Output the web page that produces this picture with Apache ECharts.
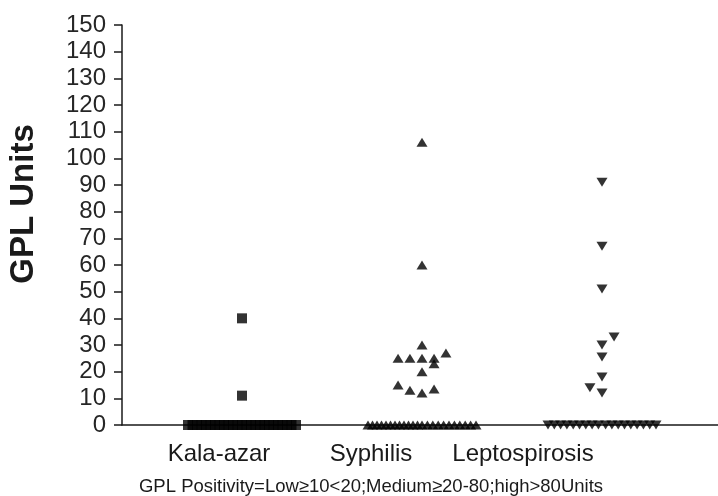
<!DOCTYPE html>
<html>
<head>
<meta charset="utf-8">
<script src="https://cdn.jsdelivr.net/npm/echarts@6/dist/echarts.min.js"></script>
<style>
  html, body { margin: 0; padding: 0; background: #fff; }
  #chart { width: 718px; height: 496px; }
</style>
</head>
<body>
<div id="chart"></div>
<script>
// category names and footnote
const categories = ['Kala-azar', 'Syphilis', 'Leptospirosis']
const yTitle = 'GPL Units'
const footnote = 'GPL Positivity=Low≥10<20;Medium≥20-80;high>80Units'

// each point: [horizontal spread within the column, GPL units]
const kalaAzar = [
  [-0.30, 0], [-0.275, 0], [-0.25, 0], [-0.225, 0], [-0.20, 0], [-0.175, 0], [-0.15, 0],
  [-0.125, 0], [-0.10, 0], [-0.075, 0], [-0.05, 0], [-0.025, 0], [0, 0], [0.025, 0],
  [0.05, 0], [0.075, 0], [0.10, 0], [0.125, 0], [0.15, 0], [0.175, 0], [0.20, 0],
  [0.225, 0], [0.25, 0], [0.275, 0], [0.30, 0],
  [0, 40], [0, 11]
]
const syphilis = [
  [-0.30, 0], [-0.275, 0], [-0.25, 0], [-0.225, 0], [-0.20, 0], [-0.175, 0], [-0.15, 0],
  [-0.125, 0], [-0.10, 0], [-0.075, 0], [-0.05, 0], [-0.025, 0], [0, 0],
  [0.03, 0], [0.06, 0], [0.09, 0], [0.12, 0], [0.15, 0], [0.18, 0], [0.21, 0],
  [0.24, 0], [0.27, 0], [0.30, 0],
  [0, 106], [0, 60], [0, 30],
  [-0.133, 25], [-0.067, 25], [0, 25], [0.067, 25], [0.067, 23], [0.133, 27],
  [0, 20], [-0.133, 15], [-0.067, 13], [0, 12], [0.067, 13.5]
]
const leptospirosis = [
  [-0.30, 0], [-0.265, 0], [-0.23, 0], [-0.195, 0], [-0.16, 0], [-0.125, 0], [-0.09, 0],
  [-0.055, 0], [-0.02, 0], [0.02, 0], [0.055, 0], [0.09, 0], [0.125, 0], [0.16, 0],
  [0.195, 0], [0.23, 0], [0.265, 0], [0.30, 0],
  [0, 91], [0, 67], [0, 51], [0.067, 33], [0, 30], [0, 25.5], [0, 18], [-0.067, 14], [0, 12]
]

const font = 'Liberation Sans, Arial, sans-serif'
const ink = '#1a1a1a'

const place = (points, col) => points.map(p => [col + p[0], p[1]])

const chart = echarts.init(document.getElementById('chart'))
const option = {
  animation: false,
  backgroundColor: '#fff',
  grid: [
    { left: 122, right: 0, top: 25, bottom: 71, outerBoundsMode: 'none' },
    { left: 143, right: 119, top: 25, bottom: 71, outerBoundsMode: 'none' }
  ],
  xAxis: [
    {
      type: 'value',
      gridIndex: 0,
      min: 1 / 3,
      max: 3 + 116 / 180,
      axisLine: { show: true, onZero: false, lineStyle: { color: ink, width: 1.5 } },
      axisTick: { show: false },
      axisLabel: { show: false },
      splitLine: { show: false }
    },
    {
      type: 'category',
      gridIndex: 1,
      data: categories,
      axisLine: { show: false },
      axisTick: { show: false },
      axisLabel: { interval: 0, margin: 17, fontSize: 24, color: ink, fontFamily: font },
      name: footnote,
      nameLocation: 'middle',
      nameGap: 52,
      nameTextStyle: { fontSize: 18.5, color: ink, fontFamily: font }
    }
  ],
  yAxis: [
    {
      type: 'value',
      gridIndex: 0,
      min: 0,
      max: 150,
      interval: 10,
      axisLine: { show: true, lineStyle: { color: ink, width: 1.5 } },
      axisTick: { show: true, length: 8, lineStyle: { color: ink, width: 1.5 } },
      axisLabel: { margin: 16, fontSize: 24, color: '#262626', fontFamily: font },
      splitLine: { show: false }
    },
    { type: 'value', gridIndex: 1, show: false, min: 0, max: 150 }
  ],
  graphic: [
    {
      type: 'text',
      x: 24,
      y: 204,
      rotation: Math.PI / 2,
      style: {
        text: yTitle,
        font: 'bold 33px ' + font,
        fill: ink,
        align: 'center',
        verticalAlign: 'middle'
      }
    }
  ],
  series: [
    {
      name: categories[0],
      type: 'scatter',
      xAxisIndex: 0,
      yAxisIndex: 0,
      symbol: 'rect',
      symbolSize: 10,
      itemStyle: { color: '#000' },
      data: place(kalaAzar, 1)
    },
    {
      name: categories[1],
      type: 'scatter',
      xAxisIndex: 0,
      yAxisIndex: 0,
      symbol: 'triangle',
      symbolSize: [11, 9],
      itemStyle: { color: '#000' },
      data: place(syphilis, 2)
    },
    {
      name: categories[2],
      type: 'scatter',
      xAxisIndex: 0,
      yAxisIndex: 0,
      symbol: 'triangle',
      symbolRotate: 180,
      symbolSize: [11, 9],
      itemStyle: { color: '#000' },
      data: place(leptospirosis, 3)
    }
  ]
}
chart.setOption(option)
</script>
</body>
</html>
